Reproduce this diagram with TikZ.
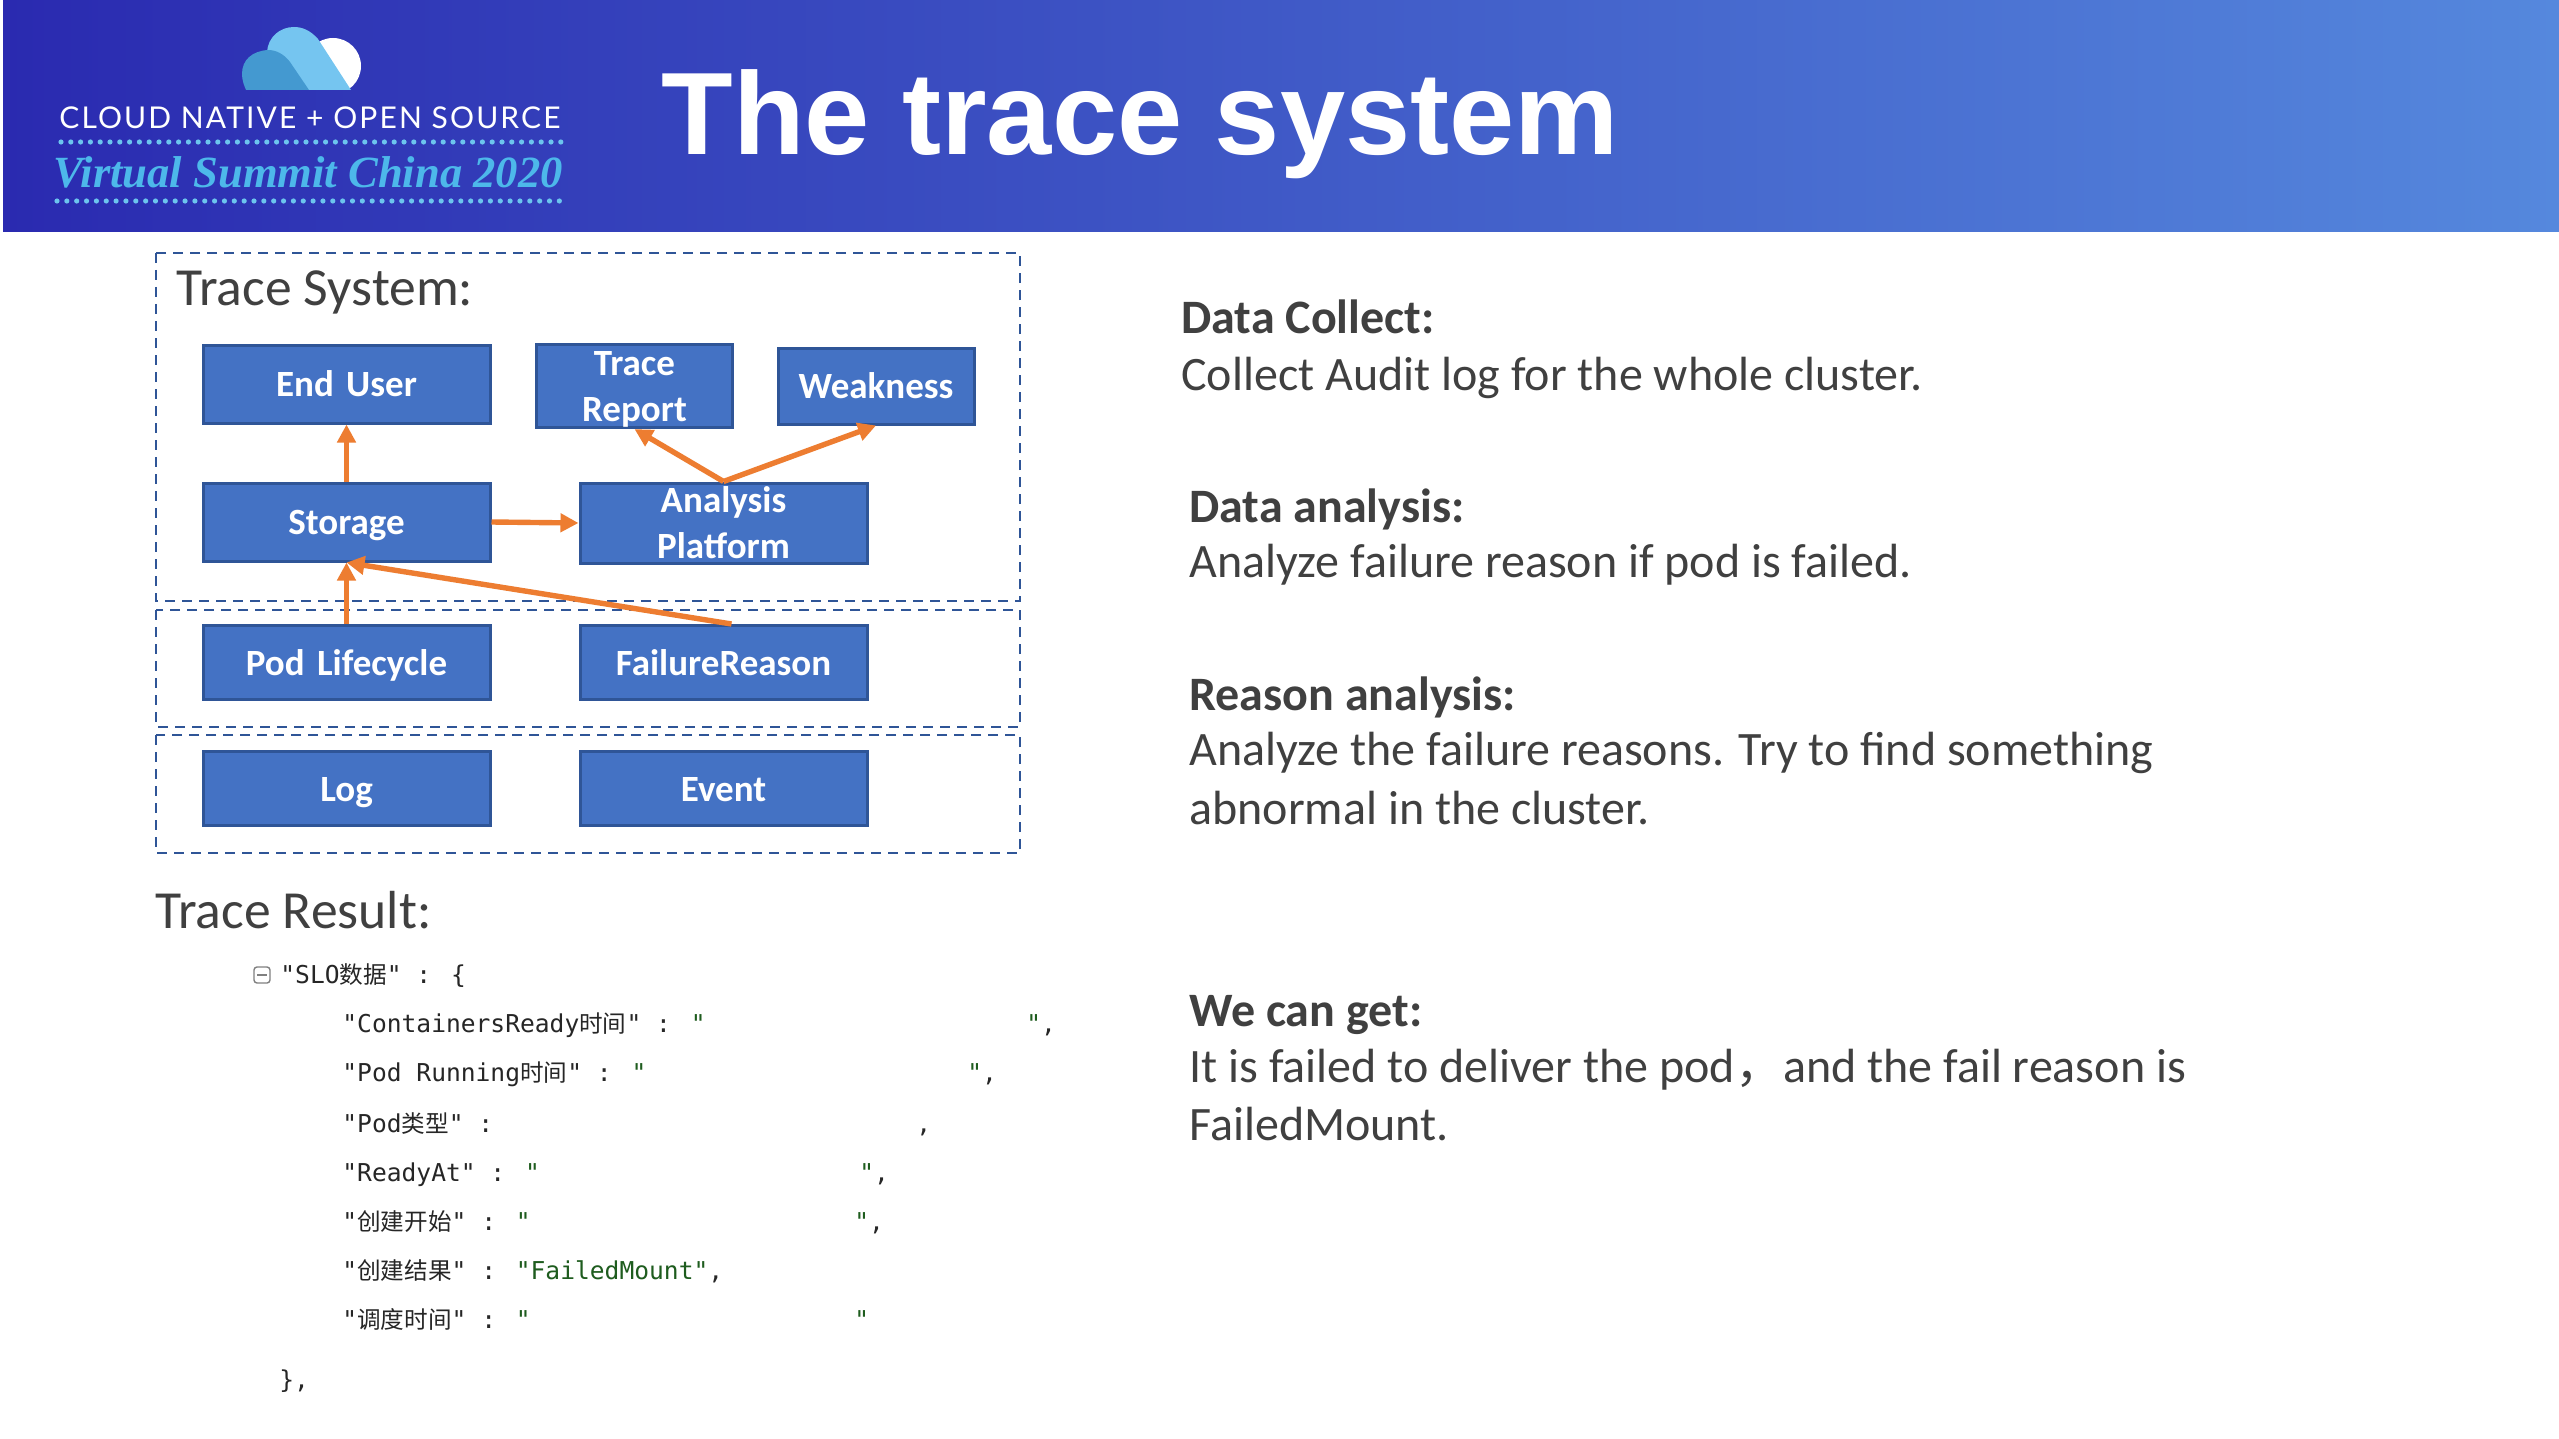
\documentclass[tikz,border=0pt]{standalone}
\usepackage{fontspec}
\setmainfont{Carlito}
\newfontfamily\titlefont{Liberation Sans}
\newfontfamily\mymono{DejaVu Sans Mono}
\newfontfamily\cjkfont[Scale=0.96]{Noto Sans CJK SC}
\newfontfamily\cjktext{Noto Sans CJK SC}
\newfontfamily\logofont{Lato}
\newfontfamily\vsfont{Liberation Serif}
\usetikzlibrary{arrows.meta,calc}
\definecolor{boxfill}{HTML}{4472C4}
\definecolor{boxline}{HTML}{2F5597}
\definecolor{orangeA}{HTML}{ED7D31}
\definecolor{greyT}{HTML}{404040}
\definecolor{hdrL}{HTML}{2A2AB0}
\definecolor{hdrR}{HTML}{5588DD}
\definecolor{dotc}{HTML}{6CC5EE}
\definecolor{scriptc}{HTML}{4DB8EA}
\definecolor{greenS}{HTML}{1E5C1E}
\definecolor{cloudA}{HTML}{4499D0}
\definecolor{cloudB}{HTML}{75C5F0}
\newcommand{\cj}[1]{{\cjkfont #1}}
\newcommand{\gq}{\textcolor{greenS}{"}}
\tikzset{
  flow/.style={draw=boxline,line width=1.5pt,fill=boxfill,text=white,font=\bfseries\fontsize{18.5}{23}\selectfont,align=center,inner sep=0pt,text width=130pt},
  wide/.style={flow,minimum width=143.5pt,minimum height=39pt},
  shortbox/.style={wide,minimum height=37pt},
  narrow/.style={flow,minimum width=98pt,minimum height=38pt,text width=95pt},
  oneline/.style={text height=15.5pt,text depth=2.6pt},
  zone/.style={draw=boxline,line width=1.2pt,dash pattern=on 5pt off 3.5pt},
  link/.style={draw=orangeA,line width=2.7pt,-{Triangle[length=9pt,width=9pt]}},
  body/.style={anchor=base west,inner sep=0pt,text=greyT,font=\fontsize{24}{28}\selectfont},
  head/.style={body,font=\bfseries\fontsize{24}{28}\selectfont},
  sect/.style={anchor=base west,inner sep=0pt,text=greyT,font=\fontsize{26.8}{30}\selectfont},
  code/.style={anchor=base west,inner sep=0pt,text=black!85,font=\mymono\fontsize{12.3}{15}\selectfont},
}
\begin{document}
\begin{tikzpicture}[x=0.5pt,y=-0.5pt]
\useasboundingbox (0,0) rectangle (2559,1439);
\fill[white] (0,0) rectangle (2559,1439);
\shade[left color=hdrL,right color=hdrR] (3,0) rectangle (2559,232);
% logo
\begin{scope}
\clip (230,0) rectangle (380,90);
\fill[white] (333,66) circle[radius=14pt];
\fill[cloudB] (351,90) -- (318,39) .. controls (310,30) and (302,27) .. (294,27) .. controls (280,27) and (268,37) .. (267,52) -- (290,95) -- cycle;
\fill[cloudA] (309,90) -- (290,62) .. controls (284,54) and (276,50) .. (268,50) .. controls (252,51) and (242,60) .. (242,74) .. controls (242,80) and (244,86) .. (247,92) -- (309,92) -- cycle;
\end{scope}
\node[anchor=base west,inner sep=0pt,text=white] (logoA) at (59,129) {\logofont\fontsize{15}{18}\selectfont\addfontfeature{LetterSpace=7}CLOUD NATIVE + OPEN SOURCE};
\foreach \i in {0,...,51} \fill[dotc] ({61+\i*9.8},142) circle[radius=1.3pt];
\node[anchor=base west,inner sep=0pt,text=scriptc] (logoB) at (53,188) {\vsfont\bfseries\itshape\fontsize{22.3}{26}\selectfont Virtual Summit China 2020};
\foreach \i in {0,...,51} \fill[dotc] ({57+\i*9.85},201) circle[radius=1.3pt];
\node[anchor=base west,inner sep=0pt,text=white] (title) at (661,155) {\titlefont\bfseries\fontsize{58.6}{70}\selectfont The trace system};
% zones
\draw[zone] (156,253) rectangle (1020,601);
\draw[zone] (156,610) rectangle (1020,727);
\draw[zone] (156,735) rectangle (1020,853);
\node[sect] (sysT) at (176,306) {Trace System:};
% boxes
\node[wide,oneline] (user) at (346.5,384) {End User};
\node[narrow] (report) at (634.5,386) {\rule{0pt}{15.7pt}Trace\\[0pt]Report};
\node[narrow,oneline] (weak) at (876,386) {Weakness};
\node[wide,oneline] (store) at (346.5,522) {Storage};
\node[wide,minimum height=40pt] (ana) at (723.5,523) {Analysis\\[0pt]Platform};
\node[shortbox,oneline] (pod) at (346.5,662.5) {Pod Lifecycle};
\node[shortbox,oneline] (fail) at (723.5,662.5) {FailureReason};
\node[shortbox,oneline] (log) at (346.5,788.5) {Log};
\node[shortbox,oneline] (event) at (723.5,788.5) {Event};
% links
\draw[link] (store.north) -- (user.south);
\draw[link] (store.east) -- (ana.west);
\draw[link] (ana.north) -- (report.south);
\draw[link] (ana.north) -- (weak.south);
\draw[link] (pod.north) -- (store.south);
\draw[link] ($(fail.north)+(8,0)$) -- (store.south);
% result
\node[sect] (resT) at (155,928) {Trace Result:};
\node[draw=gray,line width=.7pt,rounded corners=1.5pt,minimum width=8pt,minimum height=8pt,inner sep=0pt] (fold) at (262,975) {};
\draw[gray,line width=.7pt] ($(fold.west)+(4,0)$) -- ($(fold.east)+(-4,0)$);
\node[code] (l0) at (280,983) {"SLO\cj{数据}" : \{};
\node[code] (l1) at (342,1032) {"ContainersReady\cj{时间}" : \gq};
\node[code] (l1e) at (1026,1032) {\gq,};
\node[code] (l2) at (342,1081) {"Pod Running\cj{时间}" : \gq};
\node[code] (l2e) at (967,1081) {\gq,};
\node[code] (l3) at (342,1132) {"Pod\cj{类型}" :};
\node[code] (l3e) at (916,1132) {,};
\node[code] (l4) at (342,1181) {"ReadyAt" : \gq};
\node[code] (l4e) at (859,1181) {\gq,};
\node[code] (l5) at (342,1230) {"\cj{创建开始}" : \gq};
\node[code] (l5e) at (854,1230) {\gq,};
\node[code] (l6) at (342,1279) {"\cj{创建结果}" : \textcolor{greenS}{"FailedMount"},};
\node[code] (l7) at (342,1328) {"\cj{调度时间}" : \gq};
\node[code] (l7e) at (854,1328) {\gq};
\node[code] (l8) at (279,1388) {\},};
% right text
\node[head] (a1) at (1181,334) {Data Collect:};
\node[body] (a2) at (1181,390) {Collect Audit log for the whole cluster.};
\node[head] (b1) at (1189,522) {Data analysis:};
\node[body] (b2) at (1189,577) {Analyze failure reason if pod is failed.};
\node[head] (c1) at (1189,710) {Reason analysis:};
\node[body] (c2) at (1189,765) {Analyze the failure reasons. Try to find something};
\node[body] (c3) at (1189,824) {abnormal in the cluster.};
\node[head] (d1) at (1189,1026) {We can get:};
\node[body] (d2) at (1189,1082) {It is failed to deliver the pod{\cjktext ，}and the fail reason is};
\node[body] (d3) at (1189,1140) {FailedMount.};
\end{tikzpicture}
\end{document}
